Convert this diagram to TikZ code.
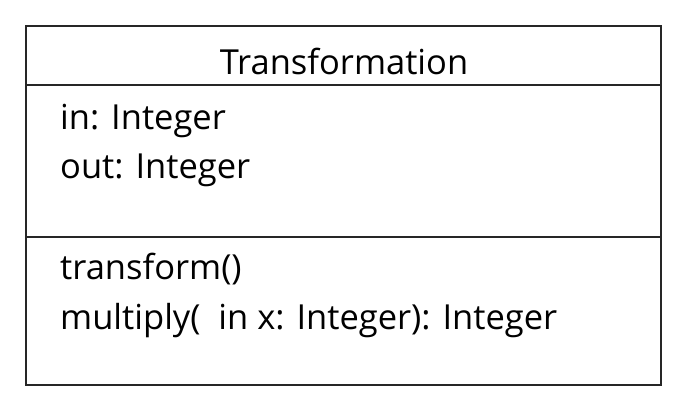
\documentclass[tikz,border=0pt]{standalone}
\usepackage{fontspec}
\setmainfont{Open Sans}
\begin{document}
\begin{tikzpicture}[x=1pt,y=-1pt,
  frame/.style={draw=black!85, line width=2pt},
  label/.style={inner sep=0pt, anchor=base west, font=\fontsize{34.5}{40}\selectfont},
  title/.style={inner sep=0pt, anchor=base, font=\fontsize{34.5}{40}\selectfont}]
  \useasboundingbox[fill=white] (0,0) rectangle (688,413);
  % class box with its three compartments
  \draw[frame] (26,26) rectangle (661,385);
  \draw[frame] (26,85) -- (661,85);
  \draw[frame] (26,237) -- (661,237);
  % name
  \node[title] (name) at (344,74) {Transformation};
  % attributes
  \node[label] (a1) at (60,129) {in: Integer};
  \node[label] (a2) at (60,178) {out: Integer};
  % operations
  \node[label] (o1) at (60,279) {transform()};
  \node[label] (o2) at (60,329) {multiply(\ \ in x: Integer): Integer};
\end{tikzpicture}
\end{document}
